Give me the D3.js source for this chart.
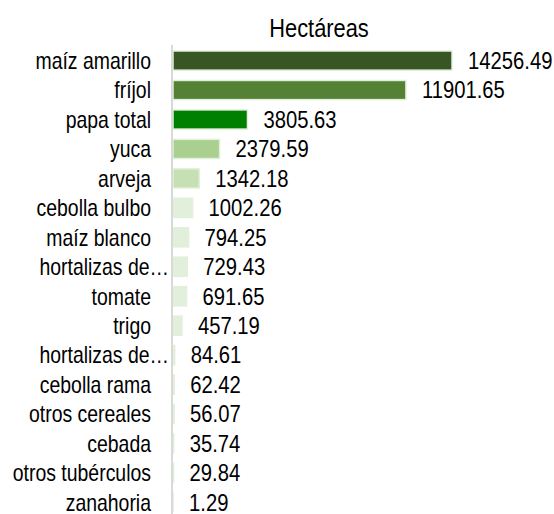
<!DOCTYPE html>
<html>
<head>
<meta charset="utf-8">
<script src="https://cdn.jsdelivr.net/npm/d3@7"></script>
<style>
  body { margin: 0; background: #fff; }
  text { font-family: "Liberation Sans", Arial, sans-serif; fill: #000; }
</style>
</head>
<body>
<div id="chart"></div>
<script>
// data
const cultivos = ["maíz amarillo", "fríjol", "papa total", "yuca", "arveja", "cebolla bulbo",
  "maíz blanco", "hortalizas de…", "tomate", "trigo", "hortalizas de… ", "cebolla rama",
  "otros cereales", "cebada", "otros tubérculos", "zanahoria"];
const hectareas = [14256.49, 11901.65, 3805.63, 2379.59, 1342.18, 1002.26, 794.25, 729.43,
  691.65, 457.19, 84.61, 62.42, 56.07, 35.74, 29.84, 1.29];
const colores = ["#375623", "#548235", "#008000", "#a9d08e", "#c6e0b4", "#e2efda", "#e2efda",
  "#e2efda", "#e2efda", "#e2efda", "#e2efda", "#e2efda", "#e2efda", "#e2efda", "#e2efda", "#e2efda"];

const data = cultivos.map((c, i) => ({ name: c, value: hectareas[i], color: colores[i] }));

const width = 554, height = 514;
const x0 = 173;

const svg = d3.select("#chart").append("svg")
  .attr("width", width)
  .attr("height", height);

const x = d3.scaleLinear()
  .domain([0, d3.max(hectareas)])
  .range([x0, 452]);

const y = d3.scaleBand()
  .domain(cultivos)
  .range([46, 517])
  .paddingInner(0.35)
  .paddingOuter(0.17);

// title
svg.append("text")
  .attr("transform", "translate(319,37) scale(0.84,1)")
  .attr("text-anchor", "middle")
  .style("font-size", "26px")
  .text("Hectáreas");

// bars
svg.selectAll("rect.bar")
  .data(data)
  .enter().append("rect")
  .attr("class", "bar")
  .attr("x", x(0))
  .attr("y", d => y(d.name))
  .attr("width", d => x(d.value) - x(0))
  .attr("height", y.bandwidth())
  .attr("fill", d => d.color)
  .attr("stroke", "#e2efda")
  .attr("stroke-width", 1.5);

// vertical axis line
svg.append("line")
  .attr("x1", 172).attr("x2", 172)
  .attr("y1", 45).attr("y2", height)
  .attr("stroke", "#d9d9d9")
  .attr("stroke-width", 2);

// category labels
svg.selectAll("text.cat")
  .data(data)
  .enter().append("text")
  .attr("class", "cat")
  .attr("text-anchor", "end")
  .attr("transform", d => {
    const lx = d.name.includes("…") ? 169 : 151;
    return `translate(${lx},${y(d.name) + y.bandwidth() / 2}) scale(0.845,1)`;
  })
  .attr("dy", "0.36em")
  .style("font-size", "23px")
  .text(d => d.name.trim());

// value labels
svg.selectAll("text.val")
  .data(data)
  .enter().append("text")
  .attr("class", "val")
  .attr("transform", d => `translate(${x(d.value) + 16},${y(d.name) + y.bandwidth() / 2}) scale(0.88,1)`)
  .attr("dy", "0.36em")
  .style("font-size", "23px")
  .text(d => d.value.toFixed(2));
</script>
</body>
</html>
